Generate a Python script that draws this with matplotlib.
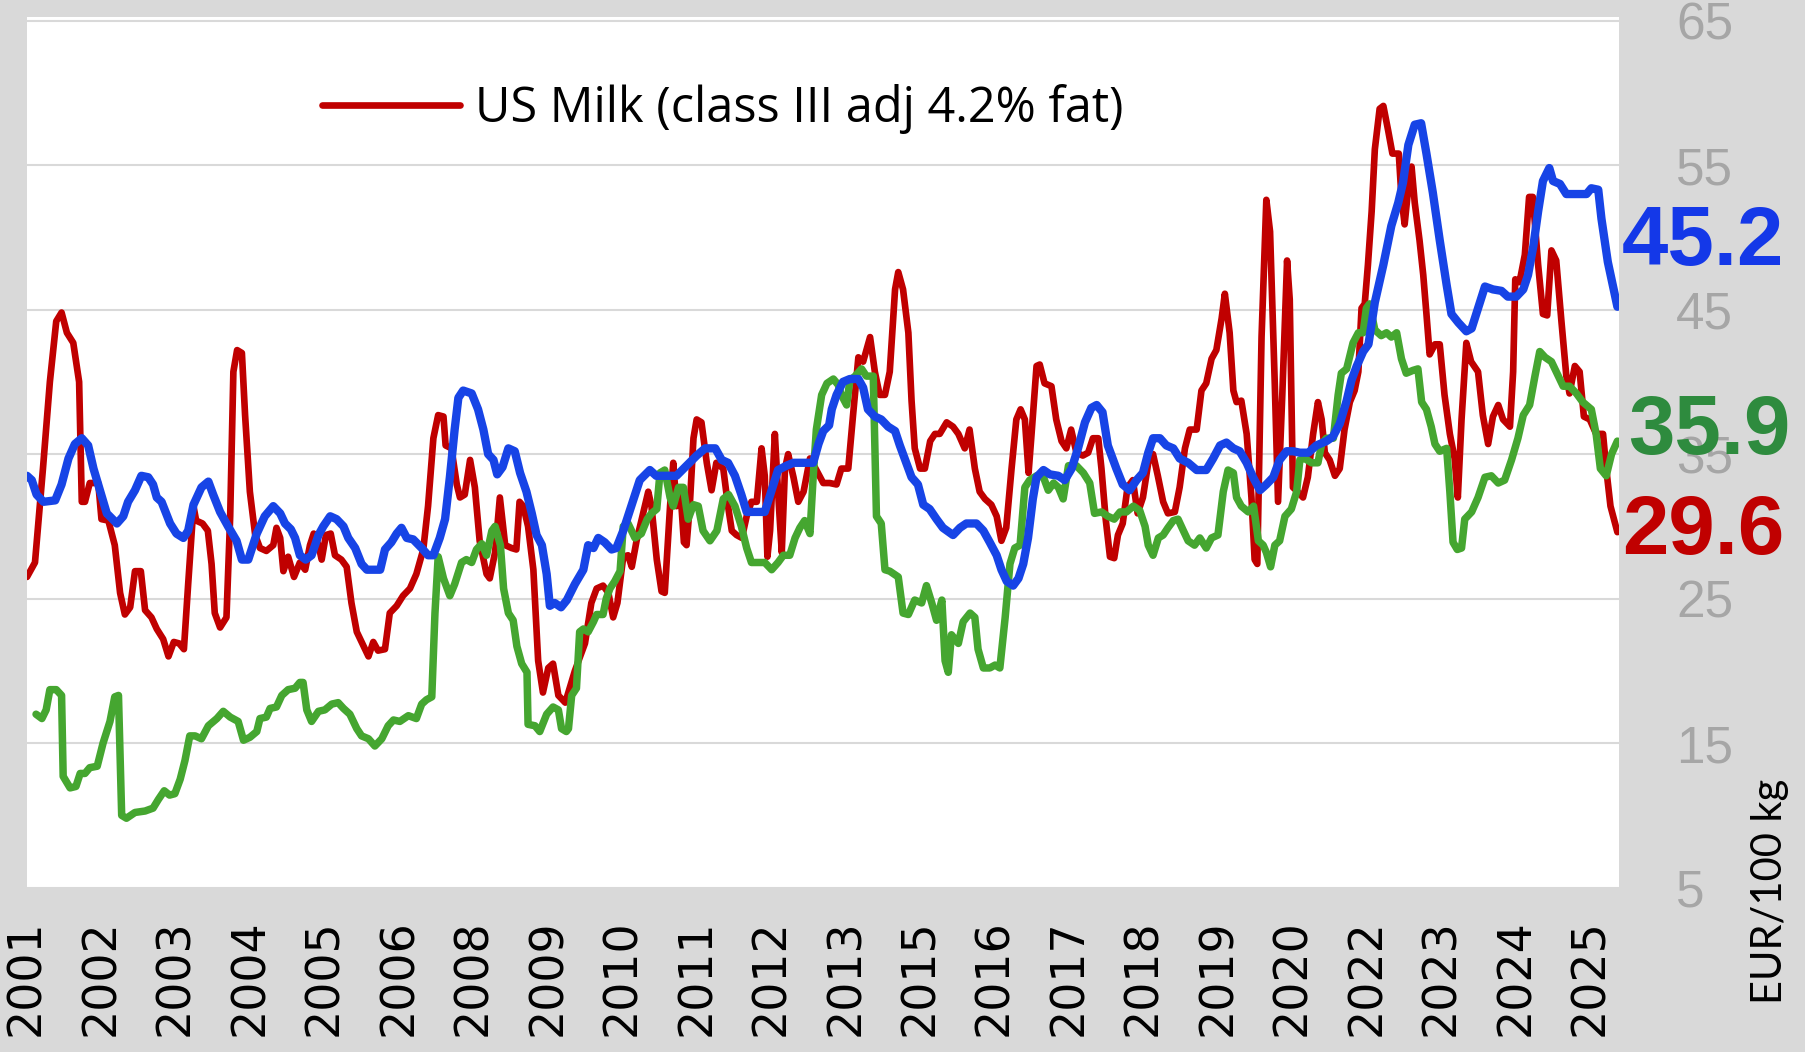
import matplotlib
matplotlib.use("Agg")
import matplotlib.pyplot as plt
import matplotlib.transforms as mtransforms

# x = month index counted from Jan 2001, y = EUR/100 kg
red_x = [0, 1.5, 3, 4.3, 5.5, 6.5, 7.5, 8.7, 9.8, 10.3, 10.9, 11.8, 13.4, 14, 15.3, 16.5, 17.5, 18.4, 19.4,
         20.3, 21.4, 22.2, 23.4, 24.4, 25.6, 26.6, 27.6, 28.6, 29.5, 30.3, 31.3, 31.8, 33, 34, 34.7, 35.3, 36.3,
         37.5, 38.2, 38.8, 39.5, 40.4, 41, 41.9, 42.9, 43.8, 45, 46.3, 46.9, 47.6, 48.2, 49.1, 50.2, 51.3, 52.3,
         53.2, 53.9, 54.8, 55.4, 56.2, 57.1, 57.9, 59.1, 60.1, 61, 62, 62.9, 64.2, 65.1, 66, 67.3, 68.2, 69.5,
         70.7, 72, 73.2, 74.5, 75.4, 76.4, 77.3, 78.3, 78.7, 79.8, 80.8, 81.4, 82.3, 83.3, 84.2, 85.1, 86.4, 87,
         88, 88.9, 89.9, 91.1, 92, 92.6, 93.3, 94.2, 95.2, 96.1, 97, 98, 98.9, 99.9, 101.2, 103, 104.9, 106.1,
         107.1, 108.3, 109.3, 110.2, 111, 112.1, 113, 113.7, 114.6, 115.9, 116.8, 117.4, 118.4, 119.3, 119.9,
         120.9, 121.5, 122.1, 122.8, 123.5, 124, 124.6, 125.3, 125.9, 126.8, 127.8, 128.7, 129.6, 130.9, 131.8,
         132.5, 133.4, 134.4, 135.3, 136.2, 137.2, 138.1, 138.7, 139.2, 139.7, 140.6, 141.2, 141.9, 142.5, 143.1,
         144.1, 145, 146, 147.2, 148.4, 149.7, 150.9, 152.2, 153.1, 154.4, 155.3, 156.3, 157.2, 158.5, 159.4,
         160.3, 161.3, 162.2, 163.2, 163.8, 164.7, 165.7, 166.3, 166.9, 167.9, 168.8, 169.8, 170.7, 171.6, 172.9,
         174.1, 175.1, 176.3, 177.2, 178.2, 179.1, 180.1, 181.3, 182.3, 183.2, 184.1, 185.1, 186, 186.8, 187.6,
         188.3, 188.8, 189.8, 190.4, 191.3, 192.6, 193.5, 194.5, 195.4, 196.3, 197.3, 198.5, 199.5, 200.4, 201.4,
         202, 202.8, 203.6, 204.4, 205.1, 206, 206.9, 207.9, 208.8, 209.8, 210.8, 211.7, 212.6, 213.6, 214.5,
         215.8, 216.7, 217.7, 218.6, 219.9, 220.8, 221.7, 222.7, 223.6, 224.6, 225.2, 226.1, 226.8, 227.4, 228.3,
         229.3, 230.2, 230.8, 231.3, 232.1, 233, 233.7, 234.6, 235.2, 236, 236.9, 237.4, 238, 238.9, 239.9,
         240.8, 241.8, 242.7, 243.4, 244, 244.9, 245.9, 246.8, 247.7, 248.7, 249.6, 250.3, 250.9, 251.5, 252.1,
         252.8, 253.4, 254.3, 255, 255.9, 256.7, 257.9, 258.4, 259, 259.6, 260.3, 260.9, 261.8, 262.5, 263.1,
         263.7, 264.7, 265.6, 266.5, 267.5, 268.4, 269, 269.7, 270.6, 271.5, 272.8, 273.7, 274.7, 275.6, 276.6,
         277.5, 278.8, 279.4, 279.8, 280.6, 281.6, 282.4, 283.1, 284.1, 285, 285.8, 286.6, 287.5, 288.5, 289.4,
         290, 291, 291.9, 292.7, 293.8, 295, 296.3, 296.9, 297.7, 299]
red_y = [26.5, 27.5, 34, 40, 44.2, 44.8, 43.4, 42.7, 40, 31.7, 31.7, 33, 33, 30.5, 30.4, 28.7, 25.4, 23.9, 24.4,
         26.9, 26.9, 24.2, 23.7, 22.9, 22.2, 21, 22, 21.9, 21.5, 26, 31.4, 30.4, 30.2, 29.7, 27.4, 24, 23,
         23.7, 30.7, 40.7, 42.2, 42, 37.7, 32.4, 29.4, 28.5, 28.3, 28.7, 29.9, 29.2, 26.9, 27.9, 26.5, 27.5, 27,
         28.7, 29.5, 28.7, 27.7, 29.4, 29.5, 28, 27.7, 27.2, 24.7, 22.7, 22, 21, 22, 21.4, 21.5, 24, 24.5,
         25.2, 25.7, 26.7, 28.4, 31.4, 36.1, 37.7, 37.6, 35.6, 35.4, 32.9, 32, 32.2, 34.6, 32.7, 29, 26.7, 26.4,
         28.2, 32, 28.7, 28.5, 28.4, 31.7, 31.4, 30, 27, 20.7, 18.5, 20.2, 20.5, 18.3, 17.8, 20, 21.9, 24.7,
         25.7, 25.9, 25.4, 23.7, 24.7, 27.9, 28, 27.2, 29, 31, 32.4, 31.4, 27.7, 25.5, 25.4,
         31.4, 34.4, 31.4, 32.7, 28.9, 28.7, 31.4, 36.1, 37.4, 37.2, 34.4, 32.5, 34.4, 34, 31.4,
         29.7, 29.4, 29.2, 30.7, 31.7, 31.7, 35.4, 33.5, 27.9, 29.7, 36.4, 32.4, 28.2, 34, 35,
         33.4, 31.7, 32.4, 34.7, 33.9, 33, 33, 32.9, 34, 34, 37.7, 41.7, 41.4, 43.1, 40.7,
         39.1, 39.1, 40.7, 46.4, 47.6, 46.4, 43.4, 38.7, 35.4, 34, 34, 35.9, 36.4, 36.4, 37.2,
         36.9, 36.4, 35.4, 36.7, 34, 32.4, 31.9, 31.5, 30.7, 29, 29.9, 34, 37.4, 38.1, 37.4,
         33.7, 36.1, 41.1, 41.2, 39.9, 39.7, 37.4, 35.9, 35.4, 36.7, 35.1, 34.9, 35.1, 36.1, 36.1,
         34, 30.5, 27.9, 27.8, 29.4, 30.2, 32.7, 33.2, 30.9, 32, 34.4, 35, 33.5, 31.7, 30.9,
         31, 32.7, 35.4, 36.7, 36.7, 39.4, 39.9, 41.6, 42.2, 44.4, 46.1, 43.4, 39.4, 38.6, 38.7,
         36.4, 32, 27.7, 27.4, 43.1, 52.6, 50.4, 39.7, 31.7, 39.1, 48.4, 45.7, 32.7, 32.4, 32,
         33.4, 36.4, 38.6, 37.4, 35.1, 34.6, 33.5, 34, 36.7, 38.6, 39.4, 40.7, 45.1, 45.4, 48.1,
         51.8, 56.1, 58.9, 59.1, 57.4, 55.8, 55.8, 52.8, 50.9, 53.1, 54.9, 52.4, 49.8, 47.4, 44.7,
         41.9, 42.6, 42.6, 39.1, 36.4, 34.7, 32, 37.4, 42.7, 41.4, 40.7, 37.7, 35.7, 37.6, 38.4,
         37.4, 36.9, 40.7, 47.1, 46.9, 48.8, 52.8, 52.8, 48.1, 44.7, 44.6, 49.1, 48.4, 44.1, 40.4,
         39.2, 41.1, 40.7, 37.6, 37.4, 36.4, 36.4, 34, 31.4, 29.6]

blue_x = [0, 0.9, 1.8, 3.1, 5.3, 6.5, 7.8, 9, 10.3, 11.5, 12.5, 13.7, 15, 16.9, 18.1, 19, 20.3, 21.5, 22.8, 23.7,
          24.4, 25.3, 26.9, 28.1, 29.4, 30.3, 31.3, 32.8, 34.1, 35, 36.3, 37.8, 39.4, 40.4, 41.6, 43.2, 44.7,
          46.3, 47.6, 48.5, 49.6, 50.4, 51.3, 52.4, 53.5, 54.8, 55.7, 57, 58.2, 59.5, 60.4, 61.7, 62.9, 63.9,
          66.4, 67.3, 68.5, 69.5, 70.4, 71.4, 72.6, 74.2, 75.4, 76.4, 77.6, 78.6, 79.5, 80.4, 81.1, 82, 83.6,
          84.8, 85.8, 86.7, 87.7, 88.4, 89.4, 90.5, 91.7, 92.7, 93.9, 94.9, 95.8, 96.8, 97.7, 98.3, 99.2, 100.4,
          101.5, 103, 104.6, 105.5, 106.5, 107.4, 108.6, 109.9, 110.8, 112.1, 113.7, 115.2, 117.1, 118.3, 120.2,
          122.1, 124, 125.9, 127.5, 129.4, 130.6, 131.8, 133.1, 134.3, 135.3, 137.2, 138.7, 140, 141.2, 142.8,
          144.1, 146.6, 147.8, 148.8, 149.7, 150.8, 151.3, 152.2, 153.4, 154.7, 156.3, 157.2, 158.1, 159.4,
          160.6, 161.9, 163.2, 164.1, 165, 166.3, 167.5, 168.5, 169.7, 171, 172.2, 174.1, 175.4, 176.6, 178.5,
          179.8, 181, 182.3, 183.2, 184.2, 185.4, 186.4, 187.3, 188.2, 189.1, 189.8, 191.1, 192.3, 193.9, 195.1,
          196.4, 197.6, 198.9, 200.1, 201.1, 202.2, 203.2, 204.8, 206, 207.3, 208.6, 209.8, 210.8, 211.7, 213,
          214.2, 215.5, 216.7, 218.3, 219.9, 221.7, 223, 224.3, 225.5, 226.8, 228, 229.3, 230.5, 231.8, 233,
          234.3, 235.5, 236.8, 238, 239.3, 240.9, 242.4, 244.3, 245.5, 246.8, 248.1, 249, 250, 251.2, 252.2,
          253.4, 255, 256.5, 257.8, 258.7, 259.7, 260.9, 262.1, 263.1, 264.3, 265.6, 266.9, 267.8, 269.1, 270.6,
          271.6, 272.8, 274.1, 275.6, 277.2, 278.4, 280, 281.3, 282.2, 283.2, 284.1, 285, 286.2, 286.9, 288.2,
          289.4, 293.2, 294.1, 295.4, 296, 297.2, 299]
blue_y = [33.5, 33.2, 32.2, 31.7, 31.8, 32.9, 34.7, 35.7, 36.1, 35.6, 34, 32.5, 30.9, 30.2, 30.7, 31.7, 32.5, 33.5,
          33.4, 32.9, 32, 31.7, 30.2, 29.5, 29.2, 29.7, 31.5, 32.7, 33.1, 32.2, 31, 30, 29, 27.7, 27.7, 29.5,
          30.7, 31.4, 30.9, 30.2, 29.8, 29.2, 28, 27.7, 28, 29.4, 30, 30.7, 30.5, 30, 29.2, 28.5, 27.4, 27,
          27, 28.4, 28.9, 29.5, 29.9, 29.2, 29.1, 28.5, 28, 28, 29.2, 30.5, 33.4, 36.7, 38.9, 39.4, 39.2,
          38.1, 36.7, 35, 34.6, 33.6, 34.1, 35.4, 35.2, 33.7, 32.4, 30.9, 29.4, 28.7, 26.7, 24.5, 24.7, 24.4,
          24.9, 26, 27, 28.7, 28.5, 29.2, 28.9, 28.4, 28.5, 29.7, 31.5, 33.2, 33.9, 33.5, 33.5,
          33.5, 34.2, 34.9, 35.4, 35.4, 34.6, 34.4, 33.5, 32.2, 31, 31, 31, 32.5, 33.9, 34.2,
          34.4, 34.4, 34.4, 35.7, 36.6, 37, 38.1, 39.1, 40, 40.2, 40.2, 39.6, 38.1, 37.6,
          37.4, 36.9, 36.6, 35.6, 34.7, 33.4, 32.9, 31.5, 31.2, 30.5, 29.9, 29.4, 29.9, 30.2, 30.2,
          29.7, 28.9, 28, 27, 26.2, 25.9, 26.4, 27.4, 29.2, 31.9, 33.4, 33.9, 33.6, 33.5, 33.2,
          34, 35.4, 37.2, 38.2, 38.4, 37.9, 35.6, 34, 32.9, 32.5, 33.2, 33.7, 35.1, 36.1, 36.1,
          35.6, 35.4, 34.7, 34.4, 33.9, 33.9, 34.7, 35.6, 35.8, 35.4, 35.2, 34.4, 33.4, 32.5, 32.9,
          33.4, 34.6, 35.2, 35.2, 35.1, 35.1, 35.6, 35.9, 36.2, 37.1, 38.7, 40.1, 41.1, 42.1, 42.6,
          45.5, 48.1, 50.8, 52.4, 53.8, 56.4, 57.8, 57.9, 55.8, 53.1, 49.8, 46.7, 44.7, 44.1, 43.5,
          43.7, 45.1, 46.6, 46.4, 46.3, 45.9, 45.9, 46.4, 47.4, 49.4, 51.8, 53.9, 54.8, 53.9, 53.7,
          53, 53, 53.4, 53.3, 51.3, 48.3, 45.2]

green_x = [1.7, 2.8, 3.6, 4.3, 5.5, 6.5, 6.8, 8.1, 9.2, 10, 10.9, 11.8, 13.2, 14.3, 15.6, 16.5, 17.2, 17.8, 18.7,
           20.3, 22.2, 23.7, 24.7, 25.8, 26.8, 27.8, 28.8, 29.7, 30.6, 31.6, 32.8, 34.1, 35.7, 36.9, 38.2, 39.7,
           40.7, 41.9, 43.2, 43.8, 45, 45.7, 46.9, 47.9, 49.1, 50.4, 51.3, 51.9, 52.6, 53.5, 54.8, 56, 57.3, 58.5,
           59.5, 60.7, 62, 62.9, 64.2, 65.4, 66.7, 67.9, 68.9, 70.1, 71.7, 73.2, 74.2, 75.1, 76.1, 76.7, 77.3,
           78.3, 79.5, 80.4, 81.7, 82.6, 83.6, 84.5, 85.5, 86.4, 87.4, 88, 89, 89.6, 90.5, 91.4, 92.1, 93, 94,
           94.2, 95.5, 96.4, 97.7, 98.9, 99.9, 100.5, 101.4, 101.8, 102.4, 103.3, 103.9, 104.6, 105.5, 106.5,
           107.1, 108.3, 108.9, 109.6, 110.5, 111.5, 112.1, 113, 114.3, 115.5, 116.6, 117.4, 118.4, 119, 119.9,
           120.9, 121.5, 122.5, 123.4, 124.3, 125.3, 126.2, 127.1, 128.4, 129.7, 130.9, 131.9, 133.1, 134.3,
           135.3, 136.2, 137.8, 138.7, 140, 141.2, 142.2, 143.4, 144.4, 145.3, 146.2, 147.2, 147.8, 148.4, 149.4,
           150.4, 151.6, 152.5, 153.1, 154.1, 154.7, 155.7, 156.9, 157.8, 159.1, 159.7, 160.6, 161.3, 162.2,
           163.8, 164.7, 165.7, 166.9, 168.2, 169.1, 170.1, 171, 172, 172.6, 173.2, 173.8, 175.1, 176, 177.3,
           178.2, 178.8, 179.8, 181, 182, 182.9, 183.9, 184.8, 185.7, 186.7, 187.6, 188.5, 189.8, 191.1, 192,
           193, 193.9, 194.8, 195.8, 197.3, 198.6, 199.8, 200.7, 202, 203.2, 204.4, 205.5, 206.7, 208, 209.2,
           210.2, 210.8, 211.7, 212.7, 213.6, 214.5, 215.5, 216.4, 217.4, 218.3, 219.5, 220.5, 221.7, 222.7,
           223.9, 224.9, 225.8, 226.8, 227.4, 228.3, 229.6, 230.6, 231.5, 232.4, 233, 233.8, 234.6, 235.5, 236.5,
           237.7, 238.7, 239.3, 240.2, 241.5, 242.7, 243.4, 244.3, 245.6, 246.5, 247.1, 248.1, 249.3, 250.3,
           251.2, 251.8, 252.4, 253.4, 254.6, 255.6, 256.5, 257.5, 258.4, 259.3, 260.6, 261.5, 262.2, 263.1,
           264, 264.7, 265.6, 266.9, 267.5, 268.1, 268.9, 269.7, 270.3, 271.6, 272.8, 274.1, 275.3, 276.6,
           277.8, 279.1, 280.3, 281.3, 282.5, 283.5, 284.4, 285.4, 286.6, 287.5, 288.8, 290, 291.3, 292.5,
           294.1, 295, 295.8, 296.9, 297.9, 299]
green_y = [17, 16.7, 17.3, 18.7, 18.7, 18.3, 12.7, 11.9, 12, 12.9, 12.9, 13.3, 13.4, 15, 16.5, 18.2, 18.3, 10, 9.8,
           10.2, 10.3, 10.5, 11.1, 11.7, 11.4, 11.5, 12.5, 13.8, 15.5, 15.5, 15.3, 16.2, 16.7, 17.2, 16.8, 16.5,
           15.2, 15.4, 15.8, 16.7, 16.8, 17.4, 17.5, 18.3, 18.7, 18.8, 19.2, 19.2, 17.3, 16.5, 17.2, 17.3, 17.7,
           17.8, 17.4, 17, 16, 15.5, 15.3, 14.8, 15.3, 16.2, 16.6, 16.5, 16.9, 16.7, 17.7, 18, 18.2, 24, 27.9,
           26.4, 25.2, 26, 27.5, 27.7, 27.5, 28.4, 28.8, 28, 29.7, 30, 28.7, 25.7, 24, 23.5, 21.7, 20.5, 19.9,
           16.3, 16.2, 15.8, 17, 17.5, 17.3, 16, 15.8, 16, 18.3, 18.8, 22.7, 22.9, 22.7, 23.4,
           23.9, 23.9, 25, 25.7, 26.2, 26.9, 30, 30.2, 29.2, 29.5, 30.5, 30.9, 31.2, 33.7, 33.9,
           32, 31.4, 32.7, 32.7, 30.5, 31.5, 31.4, 29.7, 29, 29.7, 31.9, 32.2, 31.4, 30,
           28.5, 27.5, 27.5, 27.5, 27, 27.5, 28, 28, 29.2, 29.9, 30.4, 29.5, 33.4, 36.7, 39.1,
           39.9, 40.2, 39.8, 39.1, 38.4, 40.1, 40.4, 40.9, 40.4, 40.4, 30.7, 30.2, 27, 26.9,
           26.5, 24, 23.9, 24.9, 24.7, 25.9, 24.7, 23.5, 24.9, 20.7, 19.9, 22.5, 21.9, 23.4, 24,
           23.7, 21.5, 20.2, 20.2, 20.4, 20.2, 23.7, 27.4, 28.5, 28.7, 32.7, 33.2, 33.5, 33.4, 32.5,
           33, 32.7, 31.9, 34.2, 34.2, 33.7, 33, 30.9, 31, 30.7, 30.5, 31, 31, 31.4, 31.1,
           30, 28.7, 28, 29.2, 29.4, 29.9, 30.4, 30.5, 29.7, 29, 28.7, 29.2, 28.5, 29.2,
           29.4, 32.4, 33.9, 33.7, 32, 31.4, 31, 31.4, 29, 28.7, 28.2, 27.2, 28.7, 29, 30.7,
           31.2, 32.4, 34.6, 34.7, 34.4, 34.4, 35.7, 36.1, 36.1, 39.1, 40.6, 40.9, 42.7, 43.4,
           43.4, 45.1, 45.4, 43.6, 43.2, 43.4, 43.1, 43.4, 41.6, 40.6, 40.8, 40.9, 38.6, 38.1,
           36.9, 35.7, 35.2, 35.4, 32.4, 28.9, 28.4, 28.5, 30.5, 31, 32, 33.4, 33.5, 33,
           33.2, 34.6, 36.1, 37.7, 38.4, 40.4, 42.1, 41.7, 41.4, 40.7, 39.7, 39.7, 39.2, 38.6,
           38.1, 36.4, 34, 33.5, 35, 35.9]

# category labels as shown: every 14th month from Jan 2001
tick_labels = ['2001', '2002', '2003', '2004', '2005', '2006', '2008', '2009', '2010', '2011', '2012',
               '2013', '2015', '2016', '2017', '2018', '2019', '2020', '2022', '2023', '2024', '2025']
legend_label = 'US Milk (class III adj 4.2% fat)'

RED = '#c00000'
BLUE = '#1744e6'
GREEN = '#45a630'

fig = plt.figure(figsize=(18.06, 10.52), dpi=100, facecolor='#d9d9d9')
ax = fig.add_axes([0.01495, 0.1549, 0.8815, 0.8289])
ax.set_facecolor('white')

ax.plot(red_x, red_y, color=RED, lw=4.8, solid_joinstyle='round', solid_capstyle='round',
        label=legend_label, zorder=3)
ax.plot(green_x, green_y, color=GREEN, lw=5.4, solid_joinstyle='round', solid_capstyle='round', zorder=4)
ax.plot(blue_x, blue_y, color=BLUE, lw=6, solid_joinstyle='round', solid_capstyle='round', zorder=5)

ax.set_xlim(0, 299.3)
ax.set_ylim(4.9, 65.25)
ax.set_yticks(range(5, 66, 10))
ax.yaxis.grid(True, color='#d9d9d9', lw=1.5)
ax.set_axisbelow(True)
for s in ax.spines.values():
    s.set_visible(False)

ax.yaxis.tick_right()
ax.tick_params(axis='y', length=0, pad=41, labelsize=37, labelcolor='#a6a6a6')
for lbl in ax.get_yticklabels():
    lbl.set_family(['Liberation Sans Narrow', 'Liberation Sans'])

ax.set_xticks(range(0, 14 * len(tick_labels), 14))
ax.set_xticklabels(tick_labels, rotation=90, fontsize=33)
ax.tick_params(axis='x', length=0, pad=22)

ax.legend(loc='center left', bbox_to_anchor=(0.185, 0.8945), frameon=False,
          prop={'family': 'Open Sans', 'size': 35}, handlelength=2.85, handletextpad=0.3,
          borderpad=0, borderaxespad=0)

# latest values to the right of the plot
trans = mtransforms.blended_transform_factory(ax.transAxes, ax.transData)
for val, col, xpos, ypos in [(blue_y[-1], '#1438e8', 1.002, 48.1),
                             (green_y[-1], '#2e8b3e', 1.006, 35.0),
                             (red_y[-1], RED, 1.002, 28.1)]:
    ax.text(xpos, ypos, f'{val:.1f}', transform=trans, color=col, fontsize=60,
            fontweight='bold', family='Liberation Sans', ha='left', va='baseline',
            clip_on=False, zorder=6)

fig.text(0.980, 0.153, 'EUR/100 kg', rotation=90, fontsize=30, family='Lato',
         ha='center', va='center')

fig.savefig('out.png', dpi=100, facecolor=fig.get_facecolor())
